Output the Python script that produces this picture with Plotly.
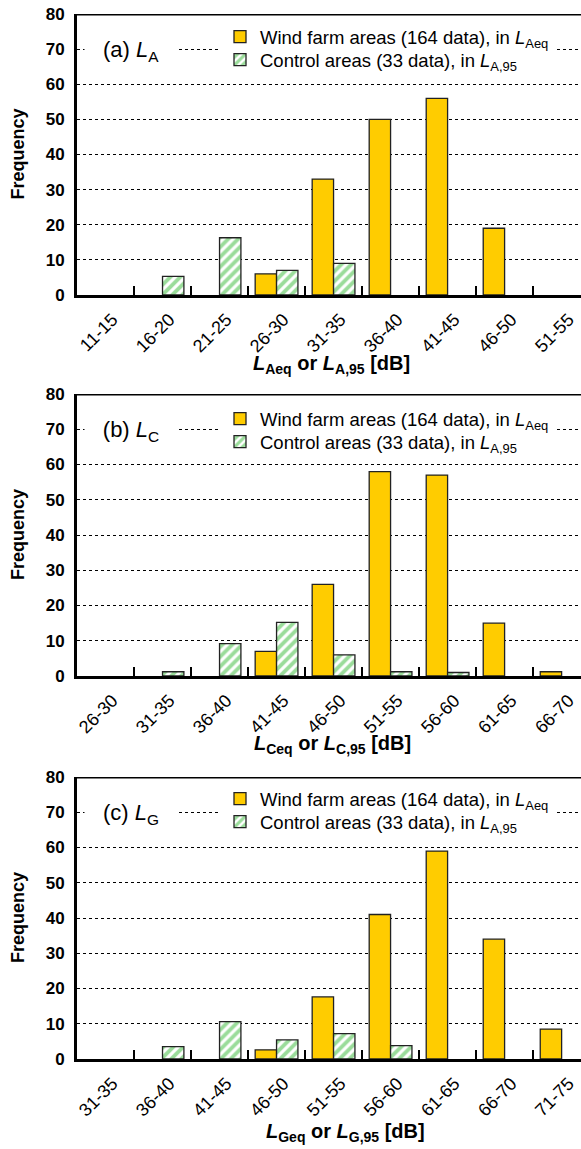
import plotly.graph_objects as go

# ---------------- data ----------------
cats_a = ["11-15", "16-20", "21-25", "26-30", "31-35", "36-40", "41-45", "46-50", "51-55"]
wind_a = [None, None, None, 6, 33, 50, 56, 19, None]
ctrl_a = [None, 5.3, 16.3, 7, 9, None, None, None, None]

cats_b = ["26-30", "31-35", "36-40", "41-45", "46-50", "51-55", "56-60", "61-65", "66-70"]
wind_b = [None, None, None, 7, 26, 58, 57, 15, 1.2]
ctrl_b = [None, 1.2, 9.2, 15.2, 6, 1.2, 1, None, None]

cats_c = ["31-35", "36-40", "41-45", "46-50", "51-55", "56-60", "61-65", "66-70", "71-75"]
wind_c = [None, None, None, 2.6, 17.6, 41, 59, 34, 8.5]
ctrl_c = [None, 3.5, 10.6, 5.4, 7.2, 3.8, None, None, None]

wind_name = "Wind farm areas (164 data), in <i>L</i><sub>Aeq</sub>"
ctrl_name = "Control areas (33 data), in <i>L</i><sub>A,95</sub>"

panel_labels = ["(a) <i>L</i><sub>A</sub>", "(b) <i>L</i><sub>C</sub>", "(c) <i>L</i><sub>G</sub>"]
x_titles = [
    "<i>L</i><sub>Aeq</sub> or <i>L</i><sub>A,95</sub> [dB]",
    "<i>L</i><sub>Ceq</sub> or <i>L</i><sub>C,95</sub> [dB]",
    "<i>L</i><sub>Geq</sub> or <i>L</i><sub>G,95</sub> [dB]",
]
y_title = "Frequency"

# ---------------- layout constants ----------------
FONT = "Liberation Sans, Arial, sans-serif"
W, H = 581, 1149
LM = 77
PW = W - LM
YELLOW = "#FFCC00"
GREEN = "#36BA36"
EDGE = "#222222"

tops = [14, 394, 777]
bottoms = [295, 676, 1059]
xt_pos = [(331, 364), (332, 744), (345, 1132)]
legend_rows = [(23, 46), (25, 48), (22, 45)]


def px_x(px):
    return (px - LM) / PW


def px_y(py):
    return 1 - py / H


fig = go.Figure()
data = [(cats_a, wind_a, ctrl_a), (cats_b, wind_b, ctrl_b), (cats_c, wind_c, ctrl_c)]

annotations = []
shapes = []
layout = {}

for i, (cats, wind, ctrl) in enumerate(data):
    n = "" if i == 0 else str(i + 1)
    xa, ya = "x" + n, "y" + n
    lg_w = "legend" + ("" if i == 0 else str(2 * i + 1))
    lg_c = "legend" + str(2 * i + 2)
    fig.add_trace(go.Bar(
        x=cats, y=wind, name=wind_name, xaxis=xa, yaxis=ya, legend=lg_w,
        marker=dict(color=YELLOW, line=dict(color=EDGE, width=1.3)),
    ))
    fig.add_trace(go.Bar(
        x=cats, y=ctrl, name=ctrl_name, xaxis=xa, yaxis=ya, legend=lg_c,
        marker=dict(color="white", line=dict(color=EDGE, width=1.3),
                    pattern=dict(shape="/", fgcolor=GREEN, bgcolor="white", size=7, solidity=0.55)),
    ))
    layout["xaxis" + n] = dict(
        domain=[0, 1], anchor=ya, type="category", automargin=False,
        categoryorder="array", categoryarray=cats,
        range=[-0.5, 8.34], tickson="boundaries", ticks="inside", ticklen=9,
        tickwidth=2, tickcolor="black", showline=True, linewidth=3, linecolor="black",
        tickangle=-45, tickfont=dict(size=18, color="black", family=FONT),
        ticklabelshift=7, ticklabelstandoff=4,
        showgrid=False, fixedrange=True,
    )
    layout["yaxis" + n] = dict(
        domain=[px_y(bottoms[i]), px_y(tops[i])], anchor=xa, automargin=False,
        range=[0, 80], dtick=10, showgrid=True, gridcolor="black", griddash="dot",
        gridwidth=1.2, showline=True, linewidth=3, linecolor="black", zeroline=False,
        ticks="", ticklabelstandoff=6, fixedrange=True,
        tickfont=dict(size=17, color="black", family=FONT, weight="bold"),
    )
    for lg, off, bg in ((lg_w, legend_rows[i][0], "white"),
                        (lg_c, legend_rows[i][1], "rgba(0,0,0,0)")):
        layout[lg] = dict(
            x=px_x(220), y=px_y(tops[i] + off), xanchor="left", yanchor="middle",
            bgcolor=bg, borderwidth=0, font=dict(size=18.5, color="black", family=FONT),
        )
    shapes.append(dict(type="line", xref=xa + " domain", x0=0, x1=1, yref=ya, y0=80, y1=80,
                       line=dict(color="black", width=3)))
    annotations.append(dict(
        text=panel_labels[i], xref="paper", yref="paper",
        x=px_x(84), y=px_y(tops[i] + 37), xanchor="left", yanchor="middle",
        showarrow=False, bgcolor="white", width=90, align="center", borderpad=1,
        font=dict(size=22, color="black", family=FONT),
    ))
    annotations.append(dict(
        text=y_title, xref="paper", yref="paper", textangle=-90,
        x=px_x(18), y=px_y((tops[i] + bottoms[i]) / 2), xanchor="center", yanchor="middle",
        showarrow=False, font=dict(size=18, color="black", family=FONT, weight="bold"),
    ))
    annotations.append(dict(
        text=x_titles[i], xref="paper", yref="paper",
        x=px_x(xt_pos[i][0]), y=px_y(xt_pos[i][1]), xanchor="center", yanchor="middle",
        showarrow=False, font=dict(size=20, color="black", family=FONT, weight="bold"),
    ))

fig.update_layout(
    width=W, height=H, margin=dict(l=LM, r=0, t=0, b=0, autoexpand=False),
    paper_bgcolor="white", plot_bgcolor="white",
    barmode="group", bargap=0.25, bargroupgap=0,
    font=dict(family=FONT, color="black"),
    annotations=annotations, shapes=shapes, showlegend=True,
    **layout,
)

fig.write_html("out.html", config={"displayModeBar": False},
               post_script="document.body.style.margin='0';")
